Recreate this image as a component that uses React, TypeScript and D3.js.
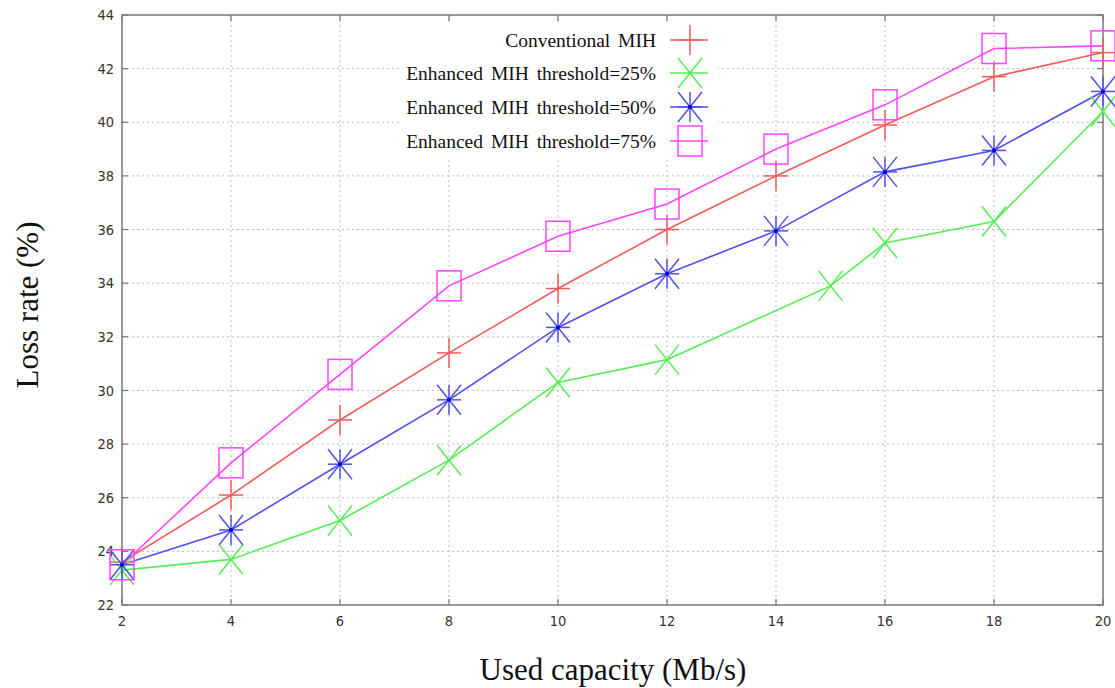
import React from "react";
import * as d3 from "d3";

const xTicks = [2, 4, 6, 8, 10, 12, 14, 16, 18, 20];
const yTicks = [22, 24, 26, 28, 30, 32, 34, 36, 38, 40, 42, 44];

const convX = [2, 4, 6, 8, 10, 12, 14, 16, 18, 20];
const convY = [23.6, 26.1, 28.9, 31.4, 33.8, 36.0, 38.0, 39.9, 41.7, 42.6];

const t25X = [2, 4, 6, 8, 10, 12, 15, 16, 18, 20];
const t25Y = [23.3, 23.7, 25.15, 27.4, 30.3, 31.15, 33.9, 35.5, 36.3, 40.4];

const t50X = [2, 4, 6, 8, 10, 12, 14, 16, 18, 20];
const t50Y = [23.5, 24.8, 27.25, 29.65, 32.35, 34.35, 35.95, 38.15, 38.95, 41.15];

const t75X = [2, 4, 6, 8, 10, 12, 14, 16, 18, 20];
const t75Y = [23.5, 27.3, 30.6, 33.9, 35.75, 36.95, 39.0, 40.65, 42.75, 42.85];

const seriesNames = [
  "Conventional MIH",
  "Enhanced MIH threshold=25%",
  "Enhanced MIH threshold=50%",
  "Enhanced MIH threshold=75%",
];
const seriesColors = ["#f25a5a", "#55ee55", "#5050f0", "#ff44ff"];
const seriesMarkers = ["plus", "cross", "star", "square"];

const series = [
  { x: convX, y: convY },
  { x: t25X, y: t25Y },
  { x: t50X, y: t50Y },
  { x: t75X, y: t75Y },
];

const W = 1115;
const H = 688;
const L = 122, R = 1103, T = 15, B = 605;

function Marker({ type, cx, cy, color }: { type: string; cx: number; cy: number; color: string }) {
  const hx = 12, hy = 15;
  const sw = 1.5;
  if (type === "plus") {
    return (
      <g stroke={color} strokeWidth={sw}>
        <line x1={cx - hx} x2={cx + hx} y1={cy} y2={cy} />
        <line x1={cx} x2={cx} y1={cy - hy} y2={cy + hy} />
      </g>
    );
  }
  if (type === "cross") {
    return (
      <g stroke={color} strokeWidth={sw}>
        <line x1={cx - hx} x2={cx + hx} y1={cy - hy} y2={cy + hy} />
        <line x1={cx - hx} x2={cx + hx} y1={cy + hy} y2={cy - hy} />
        <circle cx={cx} cy={cy} r={1.5} fill={color} stroke="none" />
      </g>
    );
  }
  if (type === "star") {
    return (
      <g stroke={color} strokeWidth={sw}>
        <line x1={cx - hx} x2={cx + hx} y1={cy} y2={cy} />
        <line x1={cx} x2={cx} y1={cy - hy} y2={cy + hy} />
        <line x1={cx - hx} x2={cx + hx} y1={cy - hy} y2={cy + hy} />
        <line x1={cx - hx} x2={cx + hx} y1={cy + hy} y2={cy - hy} />
        <circle cx={cx} cy={cy} r={2} fill="#0000cc" stroke="none" />
      </g>
    );
  }
  return (
    <g stroke={color} strokeWidth={sw} fill="none">
      <rect x={cx - hx} y={cy - hy} width={2 * hx} height={2 * hy} />
    </g>
  );
}

export default function App() {
  const x = d3.scaleLinear().domain([2, 20]).range([L, R]);
  const y = d3.scaleLinear().domain([22, 44]).range([B, T]);
  const tickFont = "'DejaVu Sans Condensed', 'DejaVu Sans', sans-serif";
  const serif = "'Liberation Serif', 'Times New Roman', serif";

  const legendRows = [40, 73, 107, 141];

  return (
    <svg width={W} height={H} style={{ position: "absolute", left: 0, top: 0, background: "#fff" }}>
      <rect x={0} y={0} width={W} height={H} fill="#fff" />
      {/* grid */}
      <g stroke="#bbb" strokeWidth={1} strokeDasharray="2,3">
        {yTicks.slice(1, -1).map((t) => (
          <line key={"gy" + t} x1={L} x2={R} y1={y(t)} y2={y(t)} />
        ))}
        {xTicks.slice(1, -1).map((t) => (
          <line key={"gx" + t} x1={x(t)} x2={x(t)} y1={T} y2={B} />
        ))}
      </g>
      {/* frame */}
      <rect x={L} y={T} width={R - L} height={B - T} fill="none" stroke="#777" strokeWidth={1.5} />
      {/* ticks */}
      <g stroke="#777" strokeWidth={1.2}>
        {yTicks.map((t) => (
          <g key={"ty" + t}>
            <line x1={L} x2={L + 6} y1={y(t)} y2={y(t)} />
            <line x1={R} x2={R - 6} y1={y(t)} y2={y(t)} />
          </g>
        ))}
        {xTicks.map((t) => (
          <g key={"tx" + t}>
            <line x1={x(t)} x2={x(t)} y1={B} y2={B - 6} />
            <line x1={x(t)} x2={x(t)} y1={T} y2={T + 6} />
          </g>
        ))}
      </g>
      {/* tick labels */}
      <g fontFamily={tickFont} fontSize={14.5} fill="#333">
        {yTicks.map((t) => (
          <text key={"ly" + t} x={L - 8} y={y(t)} dy="0.35em" textAnchor="end">
            {t}
          </text>
        ))}
        {xTicks.map((t) => (
          <text key={"lx" + t} x={x(t)} y={B + 21} textAnchor="middle">
            {t}
          </text>
        ))}
      </g>
      {/* legend background */}
      <rect x={400} y={24} width={318} height={134} fill="#fff" />
      {/* lines */}
      {series.map((s, i) => {
        const pts = s.x.map((v, j) => [x(v), y(s.y[j])] as [number, number]);
        const path = d3.line()(pts) || "";
        return <path key={"p" + i} d={path} fill="none" stroke={seriesColors[i]} strokeWidth={1.6} />;
      })}
      {/* markers */}
      {series.map((s, i) =>
        s.x.map((v, j) => (
          <Marker key={"m" + i + "-" + j} type={seriesMarkers[i]} cx={x(v)} cy={y(s.y[j])} color={seriesColors[i]} />
        ))
      )}
      {/* legend */}
      {seriesNames.map((n, i) => (
        <g key={"lg" + i}>
          <text x={656} y={legendRows[i]} dy="0.35em" textAnchor="end" fontFamily={serif} fontSize={19.5} wordSpacing={3} fill="#111">
            {n}
          </text>
          <line x1={670} x2={708} y1={legendRows[i]} y2={legendRows[i]} stroke={seriesColors[i]} strokeWidth={1.6} />
          <Marker type={seriesMarkers[i]} cx={690} cy={legendRows[i]} color={seriesColors[i]} />
        </g>
      ))}
      {/* axis titles */}
      <text x={613} y={680} textAnchor="middle" fontFamily={serif} fontSize={31} fill="#111">
        Used capacity (Mb/s)
      </text>
      <text
        transform={`translate(38,${305}) rotate(-90)`}
        textAnchor="middle"
        fontFamily={serif}
        fontSize={31}
        fill="#111"
      >
        Loss rate (%)
      </text>
    </svg>
  );
}
